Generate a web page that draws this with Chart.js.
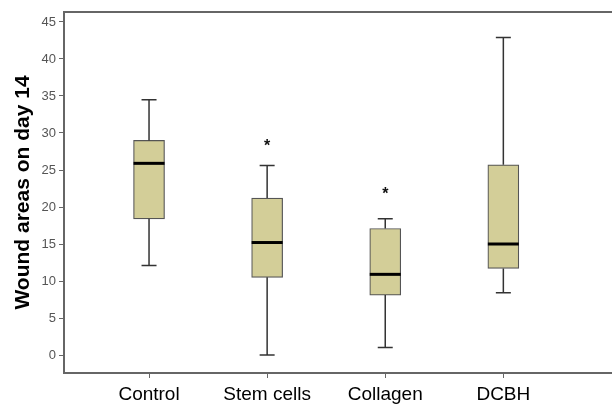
<!DOCTYPE html>
<html>
<head>
<meta charset="utf-8">
<script src="https://cdn.jsdelivr.net/npm/chart.js@4.4.1/dist/chart.umd.min.js"></script>
<style>
  html, body { margin: 0; padding: 0; background: #fff; }
  #wrap { width: 612px; height: 404px; }
</style>
</head>
<body>
<div id="wrap"><canvas id="chartBox"></canvas></div>
<script>
const categories = ["Control", "Stem cells", "Collagen", "DCBH"];
const whiskerLow = [12.1, 0.0, 1.0, 8.4];
const q1 = [18.4, 10.5, 8.1, 11.7];
const median = [25.9, 15.2, 10.9, 15.0];
const q3 = [29.0, 21.2, 17.1, 25.7];
const whiskerHigh = [34.5, 25.6, 18.4, 42.9];
const extremes = [null, 28.5, 21.9, null];
const yTicks = [0, 5, 10, 15, 20, 25, 30, 35, 40, 45];

const fontFamily = "Arial, 'Liberation Sans', sans-serif";

// whiskers, medians, extreme markers and the top frame line
const boxExtras = {
  id: "boxExtras",
  afterDatasetsDraw(chart) {
    const { ctx, chartArea, scales } = chart;
    const x = scales.x, y = scales.y;
    ctx.save();
    ctx.strokeStyle = "#666";
    ctx.lineWidth = 2;
    ctx.beginPath();
    ctx.moveTo(chartArea.left, chartArea.top);
    ctx.lineTo(chartArea.right, chartArea.top);
    ctx.stroke();

    categories.forEach((c, i) => {
      const px = x.getPixelForValue(i);
      ctx.strokeStyle = "#333";
      ctx.lineWidth = 1.5;
      ctx.beginPath();
      ctx.moveTo(px, y.getPixelForValue(q3[i]));
      ctx.lineTo(px, y.getPixelForValue(whiskerHigh[i]));
      ctx.moveTo(px, y.getPixelForValue(q1[i]));
      ctx.lineTo(px, y.getPixelForValue(whiskerLow[i]));
      ctx.moveTo(px - 7.5, y.getPixelForValue(whiskerHigh[i]));
      ctx.lineTo(px + 7.5, y.getPixelForValue(whiskerHigh[i]));
      ctx.moveTo(px - 7.5, y.getPixelForValue(whiskerLow[i]));
      ctx.lineTo(px + 7.5, y.getPixelForValue(whiskerLow[i]));
      ctx.stroke();

      ctx.strokeStyle = "#000";
      ctx.lineWidth = 3;
      ctx.beginPath();
      ctx.moveTo(px - 15.5, y.getPixelForValue(median[i]));
      ctx.lineTo(px + 15.5, y.getPixelForValue(median[i]));
      ctx.stroke();

      if (extremes[i] !== null) {
        ctx.fillStyle = "#111";
        ctx.font = "bold 16px " + fontFamily;
        ctx.textAlign = "center";
        ctx.textBaseline = "middle";
        ctx.fillText("*", px, y.getPixelForValue(extremes[i]) + 2);
      }
    });
    ctx.restore();
  },
};

new Chart(document.querySelector("#chartBox"), {
  type: "bar",
  data: {
    datasets: [
      {
        label: "IQR",
        data: categories.map((c, i) => ({ x: i, y: [q1[i], q3[i]] })),
        backgroundColor: "#d3ce98",
        borderColor: "#555",
        borderWidth: 1.2,
        borderSkipped: false,
        barThickness: 31,
      },
    ],
  },
  options: {
    responsive: true,
    maintainAspectRatio: false,
    animation: false,
    layout: { padding: { top: 12, right: 0, left: 0, bottom: 0 } },
    plugins: {
      legend: { display: false },
      tooltip: { enabled: false },
    },
    scales: {
      x: {
        type: "linear",
        min: -0.72,
        max: 3.92,
        offset: false,
        afterBuildTicks: (scale) => {
          scale.ticks = categories.map((c, i) => ({ value: i }));
        },
        afterFit: (scale) => {
          scale.height = 31;
        },
        ticks: {
          callback: (v) => categories[v],
          color: "#000",
          font: { family: fontFamily, size: 19 },
          padding: 5,
          maxRotation: 0,
          autoSkip: false,
        },
        grid: { offset: false, drawOnChartArea: false, color: "#666", tickLength: 5 },
        border: { display: true, color: "#666", width: 2 },
      },
      y: {
        min: -2.43,
        max: 46.35,
        afterBuildTicks: (scale) => {
          scale.ticks = yTicks.map((v) => ({ value: v }));
        },
        afterFit: (scale) => {
          scale.width = 64;
        },
        ticks: {
          color: "#555",
          font: { family: fontFamily, size: 13 },
          padding: 3,
        },
        grid: { drawOnChartArea: false, color: "#666", tickLength: 5 },
        border: { display: true, color: "#666", width: 2 },
        title: {
          display: true,
          text: "Wound areas on day 14",
          color: "#000",
          font: { family: fontFamily, size: 21, weight: "bold" },
          padding: { top: 11, bottom: 0 },
        },
      },
    },
  },
  plugins: [boxExtras],
});
</script>
</body>
</html>
